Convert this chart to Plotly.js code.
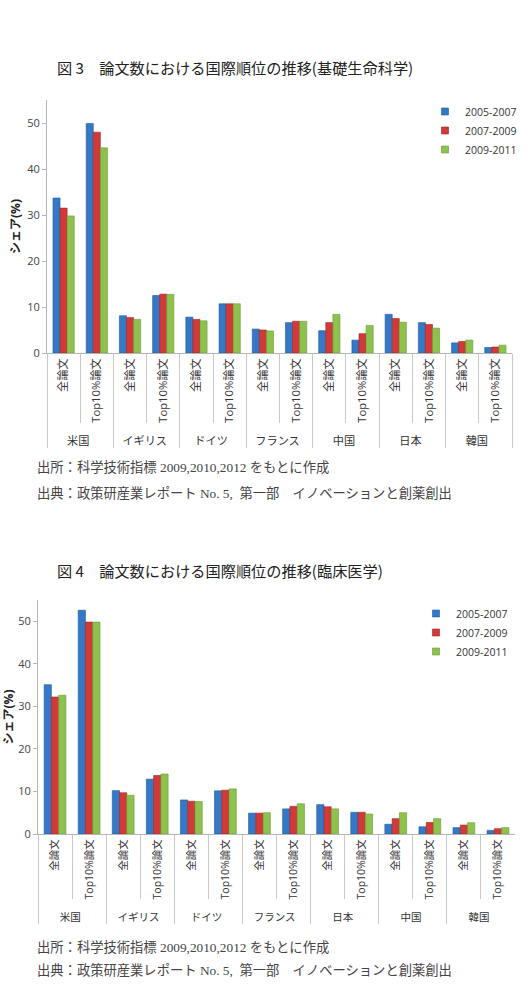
<!DOCTYPE html>
<html><head><meta charset="utf-8">
<script src="https://cdn.plot.ly/plotly-3.0.1.min.js"></script>
<style>html,body{margin:0;padding:0;background:#fff}#chart{width:528px;height:988px}</style>
</head><body><div id="chart"></div>
<script>
const seriesNames = ['2005-2007', '2007-2009', '2009-2011'];
const paperTypes = ['全論文', 'Top10%論文'];

// 図3 基礎生命科学
const countriesBasic = ['米国', 'イギリス', 'ドイツ', 'フランス', '中国', '日本', '韓国'];
const basic2005 = [33.7, 49.9, 8.1, 12.5, 7.8, 10.7, 5.2, 6.6, 4.85, 2.8, 8.4, 6.6, 2.2, 1.2];
const basic2007 = [31.5, 48.0, 7.7, 12.8, 7.3, 10.7, 5.0, 6.9, 6.6, 4.2, 7.5, 6.2, 2.5, 1.3];
const basic2009 = [29.8, 44.6, 7.3, 12.75, 7.0, 10.7, 4.8, 6.9, 8.4, 6.0, 6.7, 5.4, 2.8, 1.7];

// 図4 臨床医学
const countriesClinical = ['米国', 'イギリス', 'ドイツ', 'フランス', '日本', '中国', '韓国'];
const clin2005 = [35.1, 52.6, 10.2, 12.9, 8.0, 10.15, 4.9, 5.9, 6.9, 5.1, 2.3, 1.7, 1.5, 0.85];
const clin2007 = [32.2, 49.8, 9.7, 13.75, 7.7, 10.3, 4.9, 6.5, 6.4, 5.1, 3.6, 2.7, 2.1, 1.25];
const clin2009 = [32.6, 49.8, 9.1, 14.1, 7.65, 10.6, 5.0, 7.1, 5.9, 4.7, 5.0, 3.6, 2.65, 1.5];

const yTicks = [0, 10, 20, 30, 40, 50];

const colors = ['#3478C6', '#D23A3A', '#8EC24E'];
const lineColors = ['#1F5A9E', '#A52424', '#6A9A32'];

function multiX(countries) {
  const outer = [], inner = [];
  countries.forEach(c => paperTypes.forEach(t => { outer.push(c); inner.push(t); }));
  return [outer, inner];
}

const W = 528, H = 988;
const fy = px => 1 - px / H;
const fx = px => px / W;

const xB = multiX(countriesBasic);
const xC = multiX(countriesClinical);
const basicSeries = [basic2005, basic2007, basic2009];
const clinSeries = [clin2005, clin2007, clin2009];

const traces = [];
basicSeries.forEach((vals, i) => traces.push({
  type: 'bar', x: xB, y: vals, name: seriesNames[i], xaxis: 'x', yaxis: 'y',
  showlegend: false,
  marker: {color: colors[i], line: {color: lineColors[i], width: 0.6}}
}));
clinSeries.forEach((vals, i) => traces.push({
  type: 'bar', x: xC, y: vals, name: seriesNames[i], xaxis: 'x2', yaxis: 'y2',
  showlegend: false,
  marker: {color: colors[i], line: {color: lineColors[i], width: 0.6}}
}));
// legend entries (small square keys) on a hidden axis pair
['legend', 'legend2'].forEach(lg => seriesNames.forEach((n, i) => traces.push({
  type: 'scatter', mode: 'markers', x: [null], y: [null], name: n,
  xaxis: 'x3', yaxis: 'y3', legend: lg, showlegend: true,
  marker: {symbol: 'square', size: 7, color: colors[i], line: {color: lineColors[i], width: 0.6}}
})));

const cjk = '"Open Sans", "Noto Sans CJK JP", sans-serif';
const cjkTitle = '"Noto Sans CJK JP", sans-serif';
const serif = '"Liberation Serif", "DejaVu Serif", "Noto Sans CJK JP", serif';

function xaxis(domain, anchor, fs, tl) {
  return {
    type: 'multicategory', domain: domain, anchor: anchor,
    tickangle: -90, tickfont: {family: cjk, size: fs, color: '#333'},
    showline: true, linecolor: '#b5b5b5', linewidth: 1,
    ticks: 'outside', ticklen: tl, tickcolor: '#c8c8c8',
    showdividers: true, dividercolor: '#c8c8c8', dividerwidth: 1,
    showgrid: false, zeroline: false, fixedrange: true
  };
}
function yaxis(domain, anchor) {
  return {
    domain: domain, anchor: anchor, range: [0, 55],
    tickvals: yTicks, ticks: 'outside', ticklen: 4, tickcolor: '#b5b5b5',
    tickfont: {family: cjk, size: 11, color: '#444'},
    showline: true, linecolor: '#b5b5b5', linewidth: 1,
    showgrid: false, zeroline: false,
    title: {text: '<b>シェア(%)</b>', font: {family: cjk, size: 12, color: '#222'}, standoff: 4}
  };
}

const legendBase = {
  font: {family: cjk, size: 10.5, color: '#333'},
  bgcolor: 'rgba(0,0,0,0)', tracegroupgap: 0, itemwidth: 30,
  xanchor: 'left', yanchor: 'top'
};

const layout = {
  width: W, height: H,
  margin: {l: 0, r: 0, t: 0, b: 0},
  paper_bgcolor: '#fff', plot_bgcolor: '#fff',
  barmode: 'group', bargap: 0.36, bargroupgap: 0,
  showlegend: true,
  xaxis: xaxis([fx(47), fx(512)], 'y', 11.2, 69),
  yaxis: yaxis([fy(353), fy(100)], 'x'),
  xaxis2: xaxis([fx(38), fx(515)], 'y2', 10.5, 64),
  yaxis2: yaxis([fy(834), fy(600)], 'x2'),
  xaxis3: {domain: [0, 0.01], anchor: 'y3', visible: false},
  yaxis3: {domain: [0, 0.01], anchor: 'x3', visible: false},
  legend: Object.assign({}, legendBase, {x: fx(425), y: fy(97)}),
  legend2: Object.assign({}, legendBase, {x: fx(416), y: fy(599)}),
  annotations: [
    {text: '図 3　論文数における国際順位の推移(基礎生命科学)', xref: 'paper', yref: 'paper',
     x: fx(55), y: fy(67), xanchor: 'left', yanchor: 'middle', showarrow: false,
     font: {family: cjkTitle, size: 15.2, color: '#222'}},
    {text: '図 4　論文数における国際順位の推移(臨床医学)', xref: 'paper', yref: 'paper',
     x: fx(55), y: fy(570), xanchor: 'left', yanchor: 'middle', showarrow: false,
     font: {family: cjkTitle, size: 15.2, color: '#222'}},
    {text: '出所：科学技術指標 2009,2010,2012 をもとに作成', xref: 'paper', yref: 'paper',
     x: fx(35), y: fy(467), xanchor: 'left', yanchor: 'middle', showarrow: false,
     font: {family: serif, size: 13.3, color: '#444'}},
    {text: '出典：政策研産業レポート No. 5,  第一部　イノベーションと創薬創出', xref: 'paper', yref: 'paper',
     x: fx(35), y: fy(493), xanchor: 'left', yanchor: 'middle', showarrow: false,
     font: {family: serif, size: 13.3, color: '#444'}},
    {text: '出所：科学技術指標 2009,2010,2012 をもとに作成', xref: 'paper', yref: 'paper',
     x: fx(35), y: fy(947), xanchor: 'left', yanchor: 'middle', showarrow: false,
     font: {family: serif, size: 13.3, color: '#444'}},
    {text: '出典：政策研産業レポート No. 5,  第一部　イノベーションと創薬創出', xref: 'paper', yref: 'paper',
     x: fx(35), y: fy(970), xanchor: 'left', yanchor: 'middle', showarrow: false,
     font: {family: serif, size: 13.3, color: '#444'}}
  ]
};

Plotly.newPlot('chart', traces, layout, {displayModeBar: false, staticPlot: true});
</script></body></html>
